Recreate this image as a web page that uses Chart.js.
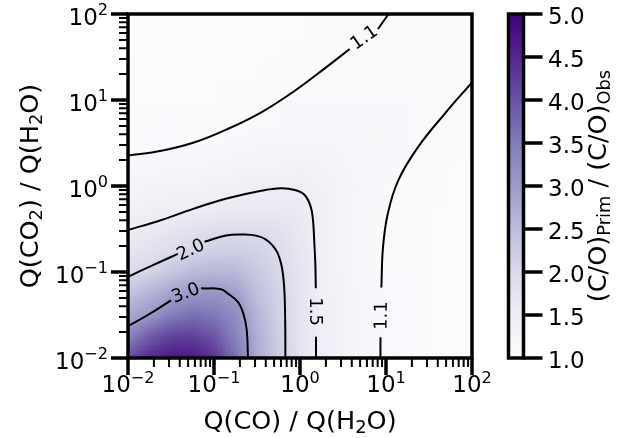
<!DOCTYPE html>
<html>
<head>
<title>C/O ratio map</title>
<script src="https://cdn.jsdelivr.net/npm/chart.js@4/dist/chart.umd.min.js"></script>
<style>
  body { margin: 0; background: #fff; }
  canvas { display: block; }
</style>
</head>
<body>
<canvas id="chart" width="636" height="438"></canvas>

<script>
// grid nodes (log10 of the production-rate ratio), same on both axes
const gridExp = [-2, -1.75, -1.5, -1.25, -1, -0.75, -0.5, -0.25, 0, 0.25, 0.5, 0.75, 1, 1.25, 1.5, 1.75, 2];

// (C/O)Prim / (C/O)Obs read off the shading; rows go from CO2/H2O = 1e2 (top) down to 1e-2,
// columns from CO/H2O = 1e-2 to 1e2
const ratioRows = [
  [1.006,1.007,1.008,1.010,1.012,1.014,1.018,1.022,1.028,1.038,1.052,1.075,1.100,1.110,1.115,1.118,1.118],
  [1.010,1.010,1.012,1.014,1.016,1.020,1.025,1.032,1.040,1.055,1.075,1.095,1.108,1.115,1.117,1.117,1.115],
  [1.013,1.015,1.017,1.020,1.023,1.028,1.035,1.045,1.060,1.080,1.100,1.110,1.115,1.115,1.115,1.112,1.110],
  [1.020,1.022,1.025,1.028,1.032,1.040,1.050,1.065,1.085,1.105,1.110,1.115,1.115,1.115,1.110,1.105,1.102],
  [1.030,1.033,1.037,1.040,1.045,1.055,1.070,1.097,1.110,1.120,1.125,1.125,1.120,1.115,1.110,1.100,1.085],
  [1.050,1.055,1.060,1.065,1.075,1.085,1.100,1.120,1.140,1.150,1.150,1.140,1.130,1.120,1.105,1.080,1.065],
  [1.080,1.085,1.090,1.098,1.110,1.140,1.170,1.190,1.210,1.210,1.190,1.160,1.130,1.110,1.085,1.065,1.050],
  [1.130,1.150,1.170,1.190,1.220,1.250,1.280,1.300,1.310,1.280,1.220,1.170,1.130,1.100,1.070,1.050,1.040],
  [1.240,1.270,1.300,1.330,1.370,1.410,1.450,1.480,1.460,1.350,1.240,1.170,1.120,1.085,1.060,1.040,1.030],
  [1.370,1.410,1.450,1.480,1.520,1.570,1.600,1.600,1.570,1.400,1.240,1.160,1.110,1.075,1.050,1.035,1.025],
  [1.500,1.600,1.700,1.800,1.880,1.930,1.920,1.830,1.630,1.400,1.250,1.160,1.100,1.065,1.045,1.030,1.025],
  [1.720,1.820,1.950,2.080,2.180,2.200,2.120,1.950,1.680,1.420,1.260,1.160,1.095,1.060,1.040,1.030,1.020],
  [1.950,2.100,2.350,2.550,2.620,2.550,2.300,2.040,1.700,1.430,1.260,1.160,1.090,1.055,1.035,1.025,1.020],
  [2.400,2.650,2.900,3.070,3.080,2.950,2.450,2.100,1.720,1.440,1.270,1.160,1.090,1.055,1.035,1.025,1.020],
  [2.800,3.050,3.500,3.650,3.550,3.200,2.600,2.150,1.730,1.450,1.270,1.160,1.090,1.055,1.035,1.025,1.015],
  [3.350,3.900,4.200,4.200,3.950,3.350,2.700,2.180,1.740,1.450,1.270,1.160,1.090,1.055,1.035,1.020,1.015],
  [4.100,4.500,4.750,4.700,4.350,3.600,2.750,2.200,1.750,1.450,1.270,1.160,1.090,1.050,1.030,1.020,1.010]
];

// contour traces as [log10 CO/H2O, log10 CO2/H2O]; each one is cut where its label sits
const contour30 = [
  [[-2,-1.63], [-1.77,-1.50], [-1.50,-1.33]],
  [[-1.15,-1.19], [-0.92,-1.20], [-0.84,-1.25], [-0.72,-1.35], [-0.66,-1.48], [-0.62,-1.67], [-0.605,-2]]
];
const contour20 = [
  [[-2,-1.055], [-1.71,-0.92], [-1.42,-0.79]],
  [[-1.11,-0.648], [-0.86,-0.575], [-0.64,-0.565], [-0.5,-0.58], [-0.4,-0.62], [-0.32,-0.69], [-0.26,-0.78],
   [-0.22,-0.9], [-0.195,-1.05], [-0.18,-1.25], [-0.172,-1.6], [-0.17,-2]]
];
const contour15 = [
  [[-2,-0.512], [-1.61,-0.395], [-1.225,-0.26], [-0.84,-0.143], [-0.45,-0.055], [-0.22,-0.027], [-0.06,-0.047],
   [0.054,-0.105], [0.124,-0.24], [0.151,-0.395], [0.165,-0.63], [0.178,-0.9], [0.184,-1.19]],
  [[0.186,-1.753], [0.186,-2]]
];
const contour11Upper = [
  [[-2,0.355], [-1.61,0.41], [-1.225,0.508], [-0.84,0.663], [-0.45,0.857], [-0.06,1.108], [0.33,1.40], [0.578,1.593]],
  [[0.907,1.826], [1.03,2]]
];
const contour11Right = [
  [[2,1.205], [1.68,0.837], [1.37,0.449], [1.14,0.06], [1.02,-0.326], [0.965,-0.713], [0.946,-1.18]],
  [[0.936,-1.76], [0.935,-2]]
];

const contourLabels = [
  { text: '3.0', at: [-1.33, -1.24] },
  { text: '2.0', at: [-1.273, -0.738] },
  { text: '1.5', at: [0.186, -1.46] },
  { text: '1.1', at: [0.744, 1.729] },
  { text: '1.1', at: [0.942, -1.506] }
];
const labelAngles = [-21, -25, 90, -35, -89];

const tickExps = [-2, -1, 0, 1, 2];
const minorMult = [2, 3, 4, 5, 6, 7, 8, 9];
const cbTicks = [1.0, 1.5, 2.0, 2.5, 3.0, 3.5, 4.0, 4.5, 5.0];

// matplotlib "Purples"
const purples = ['#fcfbfd', '#efedf5', '#dadaeb', '#bcbddc', '#9e9ac8', '#807dba', '#6a51a3', '#54278f', '#3f007d'];

const FONT = '"DejaVu Sans", sans-serif';

function hexRgb(h) {
  return [parseInt(h.slice(1, 3), 16), parseInt(h.slice(3, 5), 16), parseInt(h.slice(5, 7), 16)];
}

function cmap(v) {
  const lo = cbTicks[0], hi = cbTicks[cbTicks.length - 1];
  let t = Math.min(1, Math.max(0, (v - lo) / (hi - lo))) * (purples.length - 1);
  const i = Math.min(purples.length - 2, Math.floor(t));
  const f = t - i;
  const a = hexRgb(purples[i]), b = hexRgb(purples[i + 1]);
  return a.map((c, k) => Math.round(c + (b[k] - c) * f));
}

// text with sub/superscripts
function richWidth(ctx, parts, size) {
  let w = 0;
  parts.forEach(p => {
    ctx.font = (p.k ? size * 0.7 : size) + 'px ' + FONT;
    w += ctx.measureText(p.t).width;
  });
  return w;
}

function drawRich(ctx, parts, size, x, y, align, angle) {
  ctx.save();
  ctx.translate(x, y);
  ctx.rotate(angle || 0);
  ctx.textAlign = 'left';
  ctx.textBaseline = 'alphabetic';
  ctx.fillStyle = '#000';
  const w = richWidth(ctx, parts, size);
  let cx = align === 'center' ? -w / 2 : align === 'right' ? -w : 0;
  parts.forEach(p => {
    const s = p.k ? size * 0.7 : size;
    ctx.font = s + 'px ' + FONT;
    const dy = p.k === 'sup' ? -size * 0.4 : p.k === 'sub' ? size * 0.17 : 0;
    ctx.fillText(p.t, cx, dy);
    cx += ctx.measureText(p.t).width;
  });
  ctx.restore();
}

function powParts(e) {
  return [{ t: '10' }, { t: (e < 0 ? '\u2212' : '') + Math.abs(e), k: 'sup' }];
}

const toPoints = seg => seg.map(p => ({ x: Math.pow(10, p[0]), y: Math.pow(10, p[1]) }));

const datasets = [];
[contour30, contour20, contour15, contour11Upper, contour11Right].forEach(c => {
  c.forEach(seg => {
    datasets.push({
      data: toPoints(seg),
      showLine: true,
      borderColor: '#000',
      borderWidth: 2,
      pointRadius: 0,
      tension: 0.4,
      fill: false
    });
  });
});

const heatPlugin = {
  id: 'heat',
  beforeDatasetsDraw(chart) {
    const { ctx, chartArea: a, scales: { x, y } } = chart;
    const n = gridExp.length;
    const img = document.createElement('canvas');
    img.width = n;
    img.height = ratioRows.length;
    const ictx = img.getContext('2d');
    const im = ictx.createImageData(n, ratioRows.length);
    ratioRows.forEach((row, r) => row.forEach((v, c) => {
      const col = cmap(v);
      const o = (r * n + c) * 4;
      im.data[o] = col[0]; im.data[o + 1] = col[1]; im.data[o + 2] = col[2]; im.data[o + 3] = 255;
    }));
    ictx.putImageData(im, 0, 0);
    const half = (gridExp[1] - gridExp[0]) / 2;
    const left = x.getPixelForValue(Math.pow(10, gridExp[0] - half));
    const right = x.getPixelForValue(Math.pow(10, gridExp[n - 1] + half));
    const top = y.getPixelForValue(Math.pow(10, gridExp[n - 1] + half));
    const bottom = y.getPixelForValue(Math.pow(10, gridExp[0] - half));
    ctx.save();
    ctx.beginPath();
    ctx.rect(a.left, a.top, a.right - a.left, a.bottom - a.top);
    ctx.clip();
    ctx.imageSmoothingEnabled = true;
    ctx.drawImage(img, left, top, right - left, bottom - top);
    ctx.restore();
  }
};

const axesPlugin = {
  id: 'axes',
  afterDatasetsDraw(chart) {
    const { ctx, scales: { x, y } } = chart;
    // contour labels
    ctx.save();
    ctx.fillStyle = '#000';
    ctx.font = '18px ' + FONT;
    ctx.textAlign = 'center';
    ctx.textBaseline = 'middle';
    contourLabels.forEach((l, i) => {
      ctx.save();
      ctx.translate(x.getPixelForValue(Math.pow(10, l.at[0])), y.getPixelForValue(Math.pow(10, l.at[1])));
      ctx.rotate(labelAngles[i] * Math.PI / 180);
      ctx.fillText(l.text, 0, 1);
      ctx.restore();
    });
    ctx.restore();
  },
  afterDraw(chart) {
    const { ctx, chartArea: a, scales: { x, y, cb } } = chart;
    ctx.save();
    ctx.strokeStyle = '#000';
    ctx.lineCap = 'butt';

    // minor ticks
    ctx.lineWidth = 2;
    tickExps.slice(0, -1).forEach(e => minorMult.forEach(m => {
      const v = m * Math.pow(10, e);
      const px = x.getPixelForValue(v), py = y.getPixelForValue(v);
      ctx.beginPath();
      ctx.moveTo(px, a.bottom); ctx.lineTo(px, a.bottom + 9);
      ctx.moveTo(a.left, py); ctx.lineTo(a.left - 9, py);
      ctx.stroke();
    }));
    // major ticks and labels
    ctx.lineWidth = 3.5;
    tickExps.forEach(e => {
      const v = Math.pow(10, e);
      const px = x.getPixelForValue(v), py = y.getPixelForValue(v);
      ctx.beginPath();
      ctx.moveTo(px, a.bottom); ctx.lineTo(px, a.bottom + 17);
      ctx.moveTo(a.left, py); ctx.lineTo(a.left - 17, py);
      ctx.stroke();
      drawRich(ctx, powParts(e), 23, px, a.bottom + 34, 'center');
      drawRich(ctx, powParts(e), 23, a.left - 20, py + 10.5, 'right');
    });

    // spines
    ctx.lineWidth = 3.5;
    ctx.strokeRect(a.left, a.top, a.right - a.left, a.bottom - a.top);

    // axis titles
    drawRich(ctx, [{ t: 'Q(CO) / Q(H' }, { t: '2', k: 'sub' }, { t: 'O)' }], 25.5,
      (a.left + a.right) / 2, 429, 'center');
    drawRich(ctx, [{ t: 'Q(CO' }, { t: '2', k: 'sub' }, { t: ') / Q(H' }, { t: '2', k: 'sub' }, { t: 'O)' }], 25.5,
      38, (a.top + a.bottom) / 2, 'center', -Math.PI / 2);

    // colour bar
    const cbL = 508.5, cbR = 523.5;
    const y0 = cb.getPixelForValue(cbTicks[0]), y1 = cb.getPixelForValue(cbTicks[cbTicks.length - 1]);
    const g = ctx.createLinearGradient(0, y0, 0, y1);
    purples.forEach((c, i) => g.addColorStop(i / (purples.length - 1), c));
    ctx.fillStyle = g;
    ctx.fillRect(cbL, y1, cbR - cbL, y0 - y1);
    ctx.lineWidth = 3.5;
    ctx.strokeRect(cbL, y1, cbR - cbL, y0 - y1);
    ctx.fillStyle = '#000';
    ctx.font = '23px ' + FONT;
    ctx.textAlign = 'left';
    ctx.textBaseline = 'alphabetic';
    cbTicks.forEach(t => {
      const py = cb.getPixelForValue(t);
      ctx.beginPath();
      ctx.moveTo(cbR, py); ctx.lineTo(cbR + 19, py);
      ctx.stroke();
      ctx.fillText(t.toFixed(1), 548, py + 10);
    });
    drawRich(ctx, [{ t: '(C/O)' }, { t: 'Prim', k: 'sub' }, { t: ' / (C/O)' }, { t: 'Obs', k: 'sub' }], 25.5,
      606, (a.top + a.bottom) / 2, 'center', -Math.PI / 2);
    ctx.restore();
  }
};

new Chart(document.getElementById('chart'), {
  type: 'scatter',
  data: { datasets: datasets },
  options: {
    responsive: false,
    animation: false,
    devicePixelRatio: 1,
    layout: { padding: { left: 128, right: 164, top: 14, bottom: 80 } },
    scales: {
      x: { type: 'logarithmic', min: 0.01, max: 100, display: false },
      y: { type: 'logarithmic', min: 0.01, max: 100, display: false },
      cb: { type: 'linear', position: 'right', min: 1, max: 5, display: false }
    },
    plugins: { legend: { display: false }, tooltip: { enabled: false } }
  },
  plugins: [heatPlugin, axesPlugin]
});
</script>
</body>
</html>
